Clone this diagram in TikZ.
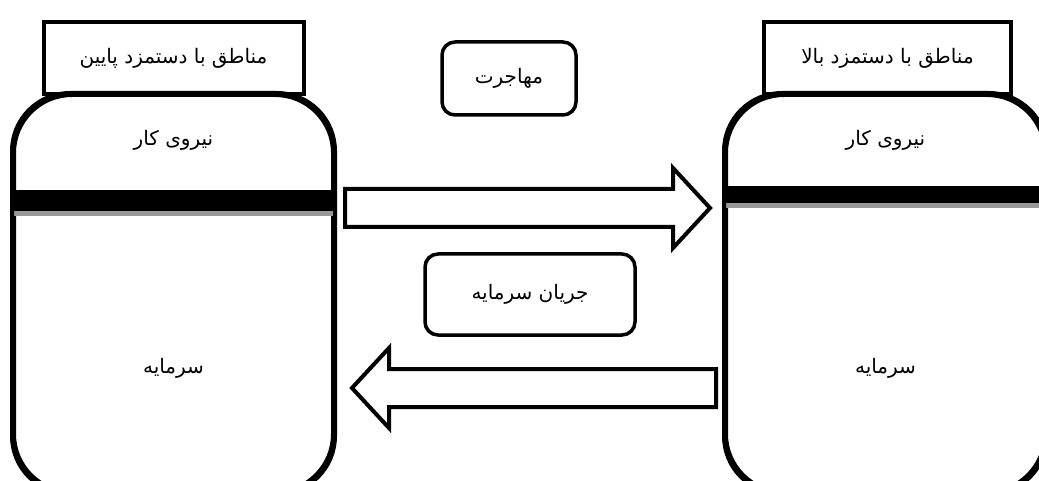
\documentclass[tikz,border=0pt]{standalone}
\usepackage{fontspec}
\newfontfamily\farsi[Script=Arabic]{DejaVu Sans}
\TeXXeTstate=1
\usetikzlibrary{positioning, calc}

\newcommand{\fa}[1]{{\farsi\beginR #1\endR}}

% block arrow from #1 to the tip #2
\newcommand{\blockarrow}[2]{%
    \coordinate (#1h) at ($(#2)!37pt!(#1)$);
    \draw[barrow] ($(#1)!19pt!90:(#2)$) -- ($(#1h)!19pt!90:(#2)$)
        -- ($(#1h)!40pt!90:(#2)$) -- (#2) -- ($(#1h)!40pt!-90:(#2)$)
        -- ($(#1h)!19pt!-90:(#2)$) -- ($(#1)!19pt!-90:(#2)$) -- cycle;
}

\begin{document}
\begin{tikzpicture}[
    x=1pt, y=1pt,
    font=\fontsize{20}{24}\selectfont,
    region/.style={
        rectangle,
        draw=black,
        fill=white,
        line width=4pt,
        rounded corners=58pt,
        minimum width=319pt,
        minimum height=397pt
    },
    header/.style={
        rectangle,
        draw=black,
        fill=white,
        line width=4pt,
        minimum height=72pt
    },
    flowbox/.style={
        rectangle,
        draw=black,
        fill=white,
        line width=3.5pt,
        rounded corners=13pt
    },
    txt/.style={inner sep=0pt},
    barrow/.style={draw=black, fill=white, line width=4pt, line join=miter}
]
    \useasboundingbox (0,0) rectangle (1039,-481);
    \clip (0,0) rectangle (1039,-481);

    % regions
    \node [region] (lowreg) at (173.5,-293.5) {};
    \node [region] (highreg) at (885.5,-293.5) {};

    \node [header, minimum width=260pt, above=-3pt of lowreg] (lowhead) {\fa{مناطق با دستمزد پایین}};
    \node [header, minimum width=247pt, above=-3pt of highreg, xshift=2pt] (highhead) {\fa{مناطق با دستمزد بالا}};

    % labour / capital bands
    \fill [black] (lowreg.west |- 0,-190) rectangle (lowreg.east |- 0,-211);
    \fill [black!40] (lowreg.west |- 0,-211) rectangle (lowreg.east |- 0,-216);
    \fill [black] (highreg.west |- 0,-186) rectangle (highreg.east |- 0,-203);
    \fill [black!40] (highreg.west |- 0,-203) rectangle (highreg.east |- 0,-208);
    \draw [line width=4pt, rounded corners=58pt] (lowreg.north west) rectangle (lowreg.south east);
    \draw [line width=4pt, rounded corners=58pt] (highreg.north west) rectangle (highreg.south east);

    \node [txt] (lowlab) at ([yshift=-47pt]lowreg.north) {\fa{نیروی کار}};
    \node [txt] (lowcap) at ([yshift=-275pt]lowreg.north) {\fa{سرمایه}};
    \node [txt] (highlab) at ([yshift=-47pt]highreg.north) {\fa{نیروی کار}};
    \node [txt] (highcap) at ([yshift=-275pt]highreg.north) {\fa{سرمایه}};

    % flows
    \node [flowbox, minimum width=134pt, minimum height=73pt] (migr) at (509,-78.5) {\fa{مهاجرت}};
    \node [flowbox, minimum width=210pt, minimum height=81pt] (capflow) at (530,-294.5) {\fa{جریان سرمایه}};

    \coordinate (migs) at ($(lowreg.east |- 0,-208)+(10,0)$);
    \coordinate (migt) at ($(highreg.west |- 0,-208)+(-14,0)$);
    \coordinate (caps) at ($(highreg.west |- 0,-388)+(-8,0)$);
    \coordinate (capt) at ($(lowreg.east |- 0,-388)+(17,0)$);

    \blockarrow{migs}{migt}
    \blockarrow{caps}{capt}
\end{tikzpicture}
\end{document}
